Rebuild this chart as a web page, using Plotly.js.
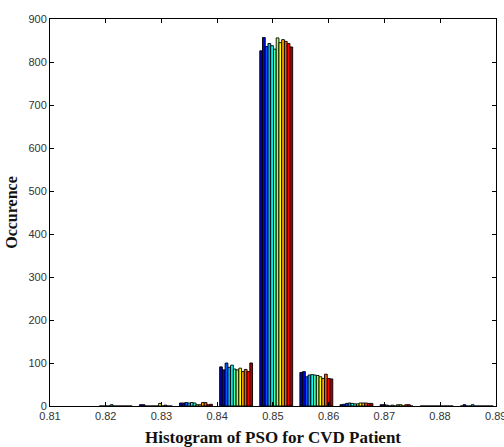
<!DOCTYPE html>
<html>
<head>
<meta charset="utf-8">
<script src="https://cdn.plot.ly/plotly-3.0.1.min.js"></script>
<style>html,body{margin:0;padding:0;background:#fff;}#chart{width:504px;height:447px;}</style>
</head>
<body>
<div id="chart"></div>
<script>
// Bin centres (PSO value)
const binCenters = [0.8218, 0.8290, 0.8362, 0.8434, 0.8506, 0.8578, 0.8650, 0.8722, 0.8794, 0.8866];

// Occurrence counts per column (series), one value per bin
const s1  = [0, 3, 7, 91, 826, 78, 3, 3, 0, 0];
const s2  = [0, 3, 7, 84, 857, 80, 4, 3, 0, 3];
const s3  = [0, 0, 8, 100, 836, 68, 6, 2, 0, 0];
const s4  = [0, 0, 7, 90, 843, 72, 7, 0, 0, 0];
const s5  = [3, 0, 8, 95, 838, 73, 6, 2, 0, 3];
const s6  = [0, 0, 7, 86, 830, 72, 5, 0, 0, 0];
const s7  = [0, 0, 3, 84, 856, 71, 5, 3, 0, 0];
const s8  = [0, 6, 3, 88, 845, 68, 7, 3, 0, 0];
const s9  = [0, 0, 8, 80, 852, 64, 7, 0, 0, 0];
const s10 = [0, 2, 8, 85, 848, 74, 7, 3, 0, 0];
const s11 = [0, 0, 3, 80, 843, 64, 6, 3, 0, 0];
const s12 = [0, 0, 4, 100, 835, 63, 6, 0, 0, 0];
const seriesList = [s1, s2, s3, s4, s5, s6, s7, s8, s9, s10, s11, s12];

// MATLAB jet(12) colormap
const jetColors = [
  'rgb(0,0,170)', 'rgb(0,0,255)', 'rgb(0,85,255)', 'rgb(0,170,255)',
  'rgb(0,255,255)', 'rgb(85,255,170)', 'rgb(170,255,85)', 'rgb(255,255,0)',
  'rgb(255,170,0)', 'rgb(255,85,0)', 'rgb(255,0,0)', 'rgb(170,0,0)'
];

const xTickVals = [0.81, 0.82, 0.83, 0.84, 0.85, 0.86, 0.87, 0.88, 0.89];
const xTickText = ['0.81', '0.82', '0.83', '0.84', '0.85', '0.86', '0.87', '0.88', '0.89'];
const yTickVals = [0, 100, 200, 300, 400, 500, 600, 700, 800, 900];

const traces = seriesList.map((vals, i) => ({
  type: 'bar',
  x: binCenters,
  y: vals,
  marker: {color: jetColors[i], line: {color: '#000', width: 0.9}},
  showlegend: false,
  hoverinfo: 'x+y'
}));

const layout = {
  width: 504, height: 447,
  margin: {l: 50, r: 8, t: 19, b: 41},
  paper_bgcolor: '#fff', plot_bgcolor: '#fff',
  barmode: 'group', bargap: 0.18, bargroupgap: 0,
  font: {family: 'Liberation Sans, Arial, sans-serif', size: 11, color: '#333'},
  xaxis: {
    range: [0.81, 0.89005], tickvals: xTickVals, ticktext: xTickText,
    ticklabeloverflow: 'allow',
    ticks: 'inside', ticklen: 4, tickcolor: '#000', tickwidth: 1,
    showline: true, linecolor: '#000', linewidth: 1, mirror: 'allticks',
    showgrid: false, zeroline: false,
    tickfont: {size: 11, color: '#333'},
    title: {text: 'Histogram of PSO for CVD Patient', standoff: 9,
      font: {family: 'Liberation Serif, Times New Roman, serif', size: 17, color: '#111', weight: 'bold'}}
  },
  yaxis: {
    range: [0, 900], tickvals: yTickVals,
    ticks: 'inside', ticklen: 4, tickcolor: '#000', tickwidth: 1,
    showline: true, linecolor: '#000', linewidth: 1, mirror: 'allticks',
    showgrid: false, zeroline: false,
    tickfont: {size: 11, color: '#333'},
    title: {text: 'Occurence', standoff: 6,
      font: {family: 'Liberation Serif, Times New Roman, serif', size: 16, color: '#111', weight: 'bold'}}
  }
};

Plotly.newPlot('chart', traces, layout, {displayModeBar: false, staticPlot: true});
</script>
</body>
</html>
